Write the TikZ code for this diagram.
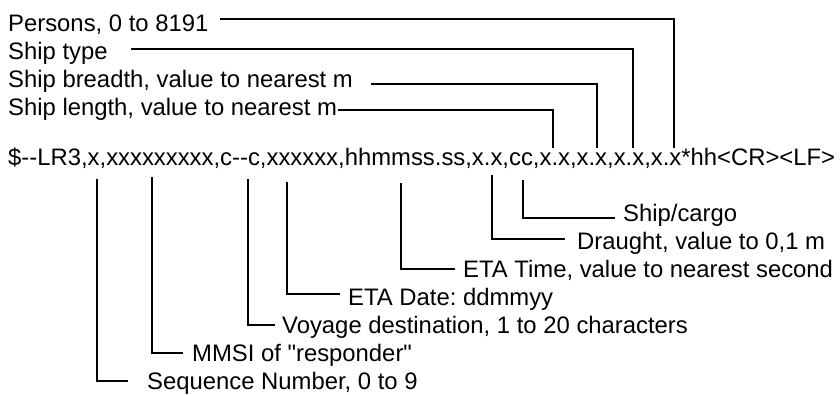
\documentclass[tikz,border=0pt]{standalone}
\usepackage{fontspec}
\setmainfont{Liberation Sans}
\frenchspacing
\begin{document}
\begin{tikzpicture}[x=1pt,y=-1pt,
  lab/.style={anchor=base west,inner sep=0pt,font=\fontsize{23.85}{28}\selectfont},
  conn/.style={line width=1.8pt,line cap=butt,line join=miter}]
\useasboundingbox[fill=white] (0,0) rectangle (840,394);
% top labels
\node[lab] (pers) at (8,31) {Persons, 0 to 8191};
\node[lab] (stype) at (8,59) {Ship type};
\node[lab] (sbr) at (8,87) {Ship breadth, value to nearest m};
\node[lab] (slen) at (8,115) {Ship length, value to nearest m};
% sentence
\node[lab] (sent) at (8,165) {\$-{}-LR3,x,xxxxxxxxx,c-{}-c,xxxxxx,hhmmss.ss,x.x,cc,x.x,x.x,x.x,x.x*hh<CR><LF>};
% bottom labels
\node[lab] (cargo) at (623,221) {Ship/cargo};
\node[lab] (draught) at (577,249) {Draught, value to 0,1 m};
\node[lab] (etat) at (463,277) {ETA Time, value to nearest second};
\node[lab] (etad) at (348,305) {ETA Date: ddmmyy};
\node[lab] (voy) at (282,333) {Voyage destination, 1 to 20 characters};
\node[lab] (mmsi) at (192,361) {MMSI of \textquotedbl responder\textquotedbl};
\node[lab] (seq) at (147,389) {Sequence Number, 0 to 9};
% top connectors
\coordinate (persS) at (220,19);  \coordinate (persE) at (674,148);
\coordinate (stypeS) at (131,49); \coordinate (stypeE) at (633,148);
\coordinate (sbrS) at (371,84);   \coordinate (sbrE) at (597,148);
\coordinate (slenS) at (338,110); \coordinate (slenE) at (553,148);
\draw[conn] (persS) -| (persE);
\draw[conn] (stypeS) -| (stypeE);
\draw[conn] (sbrS) -| (sbrE);
\draw[conn] (slenS) -| (slenE);
% bottom connectors
\coordinate (seqS) at (97,179);    \coordinate (seqE) at (128,381);
\coordinate (mmsiS) at (152,177);  \coordinate (mmsiE) at (183,353);
\coordinate (voyS) at (248,179);   \coordinate (voyE) at (275,325);
\coordinate (etadS) at (287,182);  \coordinate (etadE) at (340,294);
\coordinate (etatS) at (401,183);  \coordinate (etatE) at (455,269);
\coordinate (drS) at (492,175);    \coordinate (drE) at (565,239);
\coordinate (cgS) at (523,180);    \coordinate (cgE) at (615,218);
\draw[conn] (seqS) |- (seqE);
\draw[conn] (mmsiS) |- (mmsiE);
\draw[conn] (voyS) |- (voyE);
\draw[conn] (etadS) |- (etadE);
\draw[conn] (etatS) |- (etatE);
\draw[conn] (drS) |- (drE);
\draw[conn] (cgS) |- (cgE);
\end{tikzpicture}
\end{document}
